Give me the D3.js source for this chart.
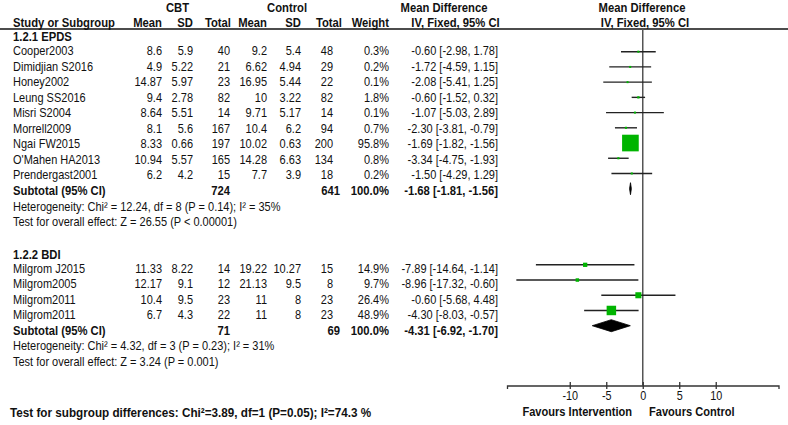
<!DOCTYPE html>
<html><head><meta charset="utf-8">
<script src="https://cdn.jsdelivr.net/npm/d3@7"></script>
<style>
html,body{margin:0;padding:0;background:#fff;}
svg{display:block;font-family:"Liberation Sans",Arial,sans-serif;}
</style></head>
<body>
<svg id="chart" width="788" height="425"></svg>
<script>
// ---------- data ----------
const studies1 = ["Cooper2003","Dimidjian S2016","Honey2002","Leung SS2016","Misri S2004","Morrell2009","Ngai FW2015","O'Mahen HA2013","Prendergast2001"];
const cbtMean1 = [8.6,4.9,14.87,9.4,8.64,8.1,8.33,10.94,6.2];
const cbtSD1   = [5.9,5.22,5.97,2.78,5.51,5.6,0.66,5.57,4.2];
const cbtN1    = [40,21,23,82,14,167,197,165,15];
const ctlMean1 = [9.2,6.62,16.95,10,9.71,10.4,10.02,14.28,7.7];
const ctlSD1   = [5.4,4.94,5.44,3.22,5.17,6.2,0.63,6.63,3.9];
const ctlN1    = [48,29,22,82,14,94,200,134,18];
const weight1  = [0.3,0.2,0.1,1.8,0.1,0.7,95.8,0.8,0.2];
const md1      = [-0.60,-1.72,-2.08,-0.60,-1.07,-2.30,-1.69,-3.34,-1.50];
const lo1      = [-2.98,-4.59,-5.41,-1.52,-5.03,-3.81,-1.82,-4.75,-4.29];
const hi1      = [1.78,1.15,1.25,0.32,2.89,-0.79,-1.56,-1.93,1.29];
const subtotal1 = {cbtN:724, ctlN:641, weight:100.0, md:-1.68, lo:-1.81, hi:-1.56};
const hetText1 = "Heterogeneity: Chi\u00B2 = 12.24, df = 8 (P = 0.14); I\u00B2 = 35%";
const effText1 = "Test for overall effect: Z = 26.55 (P < 0.00001)";

const studies2 = ["Milgrom J2015","Milgrom2005","Milgrom2011","Milgrom2011"];
const cbtMean2 = [11.33,12.17,10.4,6.7];
const cbtSD2   = [8.22,9.1,9.5,4.3];
const cbtN2    = [14,12,23,22];
const ctlMean2 = [19.22,21.13,11,11];
const ctlSD2   = [10.27,9.5,8,8];
const ctlN2    = [15,8,23,23];
const weight2  = [14.9,9.7,26.4,48.9];
const md2      = [-7.89,-8.96,-0.60,-4.30];
const lo2      = [-14.64,-17.32,-5.68,-8.03];
const hi2      = [-1.14,-0.60,4.48,-0.57];
const subtotal2 = {cbtN:71, ctlN:69, weight:100.0, md:-4.31, lo:-6.92, hi:-1.70};
const hetText2 = "Heterogeneity: Chi\u00B2 = 4.32, df = 3 (P = 0.23); I\u00B2 = 31%";
const effText2 = "Test for overall effect: Z = 3.24 (P = 0.001)";

const groupNames = ["1.2.1 EPDS","1.2.2 BDI"];
const subgroupText = "Test for subgroup differences: Chi\u00B2=3.89, df=1 (P=0.05); I\u00B2=74.3 %";
const axisTicks = [-10,-5,0,5,10];
const favoursLabels = ["Favours Intervention","Favours Control"];

// ---------- build rows ----------
function makeGroup(name, st, cm, cs, cn, km, ks, kn, w, md, lo, hi, sub, het, eff){
  const rows = [{type:"header", label:name}];
  st.forEach((s,i)=>rows.push({type:"study", label:s, cm:cm[i], cs:cs[i], cn:cn[i], km:km[i], ks:ks[i], kn:kn[i], w:w[i], md:md[i], lo:lo[i], hi:hi[i]}));
  rows.push(Object.assign({type:"subtotal", label:"Subtotal (95% CI)"}, sub));
  rows.push({type:"note", label:het});
  rows.push({type:"note", label:eff});
  return rows;
}
const g1 = makeGroup(groupNames[0], studies1, cbtMean1, cbtSD1, cbtN1, ctlMean1, ctlSD1, ctlN1, weight1, md1, lo1, hi1, subtotal1, hetText1, effText1);
const g2 = makeGroup(groupNames[1], studies2, cbtMean2, cbtSD2, cbtN2, ctlMean2, ctlSD2, ctlN2, weight2, md2, lo2, hi2, subtotal2, hetText2, effText2);
const rows = g1.concat([{type:"blank"}], g2);
rows.forEach((r,i)=>r.idx=i);

// ---------- layout ----------
const svg = d3.select("#chart");
const SX = 0.88;
const FS = 12.5, FSB = 12.8;
const yText = d3.scaleLinear().domain([0,21]).range([39.5,366]);
const yPlot = d3.scaleLinear().domain([1,19]).range([51.7,325.7]);
const x = d3.scaleLinear().domain([-18.6,18.6]).range([507,778.5]);
const boxSize = d3.scaleLinear().domain([0,100]).range([2,17.3]);
const axisY = 385.5;

function txt(xp, yp, s, opts={}){
  const sx = opts.sx || SX;
  return svg.append("text")
    .attr("transform", `translate(${xp},${yp}) scale(${sx},1)`)
    .attr("text-anchor", opts.anchor || "start")
    .attr("font-size", opts.size || (opts.bold ? FSB : FS))
    .attr("font-weight", opts.bold ? "bold" : "normal")
    .attr("fill", "#111")
    .text(s);
}

const col = {label:13, cm:162, cs:193, cn:230, km:267, ks:301, kn:333, knSub:340, w:389, md:498};

// header
const ty0 = 12;
txt(177.5, ty0, "CBT", {bold:true, anchor:"middle"});
txt(287, ty0, "Control", {bold:true, anchor:"middle"});
txt(444, ty0, "Mean Difference", {bold:true, anchor:"middle"});
txt(642, ty0, "Mean Difference", {bold:true, anchor:"middle"});
const hy = 26.5;
txt(col.label, hy, "Study or Subgroup", {bold:true});
txt(col.cm, hy, "Mean", {bold:true, anchor:"end"});
txt(col.cs, hy, "SD", {bold:true, anchor:"end"});
txt(231, hy, "Total", {bold:true, anchor:"end"});
txt(col.km, hy, "Mean", {bold:true, anchor:"end"});
txt(col.ks, hy, "SD", {bold:true, anchor:"end"});
txt(342, hy, "Total", {bold:true, anchor:"end"});
txt(col.w, hy, "Weight", {bold:true, anchor:"end"});
txt(455.5, hy, "IV, Fixed, 95% CI", {bold:true, anchor:"middle"});
txt(645, hy, "IV, Fixed, 95% CI", {bold:true, anchor:"middle"});
svg.append("line").attr("x1",0).attr("x2",788).attr("y1",29).attr("y2",29)
  .attr("stroke","#111").attr("stroke-width",1.3);

const f2 = v => v.toFixed(2);
const ci = r => `${f2(r.md)} [${f2(r.lo)}, ${f2(r.hi)}]`;

rows.forEach(r=>{
  const ty = yText(r.idx);
  if(r.type==="header"){ txt(col.label, ty+1.5, r.label, {bold:true}); }
  else if(r.type==="note"){ txt(col.label, ty, r.label); }
  else if(r.type==="study"){
    txt(col.label, ty, r.label);
    txt(col.cm, ty, String(r.cm), {anchor:"end"});
    txt(col.cs, ty, String(r.cs), {anchor:"end"});
    txt(col.cn, ty, String(r.cn), {anchor:"end"});
    txt(col.km, ty, String(r.km), {anchor:"end"});
    txt(col.ks, ty, String(r.ks), {anchor:"end"});
    txt(col.kn, ty, String(r.kn), {anchor:"end"});
    txt(col.w, ty, r.w.toFixed(1)+"%", {anchor:"end"});
    txt(col.md, ty, ci(r), {anchor:"end"});
  } else if(r.type==="subtotal"){
    txt(col.label, ty, r.label, {bold:true});
    txt(col.cn, ty, String(r.cbtN), {bold:true, anchor:"end"});
    txt(col.knSub, ty, String(r.ctlN), {bold:true, anchor:"end"});
    txt(col.w, ty, r.weight.toFixed(1)+"%", {bold:true, anchor:"end"});
    txt(col.md, ty, ci(r), {bold:true, anchor:"end"});
  }
});

// vertical zero line
svg.append("line").attr("x1",x(0)).attr("x2",x(0)).attr("y1",29).attr("y2",axisY)
  .attr("stroke","#555").attr("stroke-width",1.5);

// study marks
const studyRows = rows.filter(r=>r.type==="study");
const gm = svg.append("g");
gm.selectAll("line.ci").data(studyRows).join("line").attr("class","ci")
  .attr("x1",d=>x(d.lo)).attr("x2",d=>x(d.hi))
  .attr("y1",d=>yPlot(d.idx)).attr("y2",d=>yPlot(d.idx))
  .attr("stroke","#222").attr("stroke-width",1.4);
gm.selectAll("rect.box").data(studyRows).join("rect").attr("class","box")
  .attr("x",d=>x(d.md)-boxSize(d.w)/2).attr("y",d=>yPlot(d.idx)-boxSize(d.w)/2)
  .attr("width",d=>boxSize(d.w)).attr("height",d=>boxSize(d.w))
  .attr("fill","#00b400");

// diamonds
const subRows = rows.filter(r=>r.type==="subtotal");
gm.selectAll("path.dia").data(subRows).join("path").attr("class","dia")
  .attr("d",d=>{const y=yPlot(d.idx), h=6;
    return `M${x(d.lo)},${y}L${x(d.md)},${y-h}L${x(d.hi)},${y}L${x(d.md)},${y+h}Z`;})
  .attr("fill","#000").attr("stroke","#000").attr("stroke-width",0.8);

// axis
const axis = d3.axisBottom(x).tickValues(axisTicks).tickSizeOuter(0).tickSize(3.5).tickFormat(d=>String(d));
const ga = svg.append("g").attr("transform",`translate(0,${axisY})`).call(axis);
ga.select(".domain").attr("stroke","#333").attr("stroke-width",1.3);
ga.selectAll(".tick line").attr("y1",-3.5).attr("y2",3.5).attr("stroke","#333").attr("stroke-width",1.3);
ga.selectAll(".tick text").attr("y",14.8).attr("dy",null).attr("x",0).attr("font-size",12.3)
  .attr("transform",`scale(${SX},1)`)
  .attr("font-family","'Liberation Sans',Arial,sans-serif").attr("fill","#111");

txt(632, 416, favoursLabels[0], {bold:true, anchor:"end", size:12.6});
txt(649, 416, favoursLabels[1], {bold:true, size:12.6});
txt(10, 417, subgroupText, {bold:true, size:13.3});
</script>
</body></html>
